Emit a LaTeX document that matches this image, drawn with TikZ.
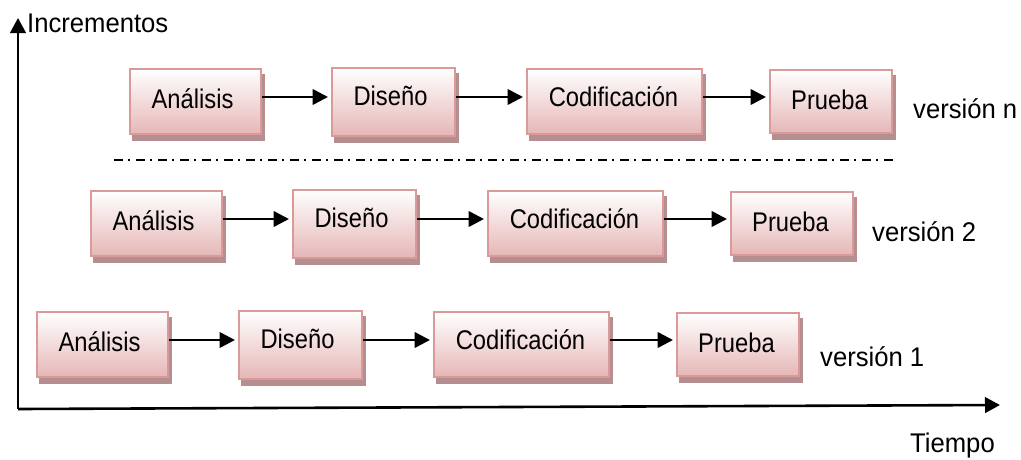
\documentclass[tikz,border=0pt]{standalone}
\usepackage{fontspec}
\setmainfont{Liberation Sans}
\usetikzlibrary{arrows.meta}
\definecolor{boxline}{HTML}{DB9A9A}
\definecolor{boxbot}{HTML}{E6B6B6}
\definecolor{boxshadow}{HTML}{B58F8F}
\tikzset{
  x=1pt,y=-1pt,
  stagebox/.style={draw=boxline,line width=2.4pt,top color=white,bottom color=boxbot,anchor=north west,inner sep=0pt,
    preaction={draw=boxshadow,fill=boxshadow,transform canvas={xshift=3pt,yshift=-6pt}}},
  lab/.style={font=\fontsize{27}{30}\selectfont,inner sep=0pt,text=black,anchor=base,xscale=.88},
  sidelab/.style={font=\fontsize{27}{30}\selectfont,inner sep=0pt,text=black,anchor=base west,xscale=.95},
  flow/.style={line width=2.6pt,-{Triangle[length=15.5pt,width=15.5pt]},shorten >=3pt},
  axisline/.style={line width=2.6pt,-{Triangle[length=15pt,width=15.5pt]},line join=round},
  sep/.style={line width=1.7pt,dash pattern=on 8.5pt off 5.5pt on 2pt off 6pt}
}
\newcommand{\rowdraw}[3]{%
 \begin{scope}[shift={(#1,#2)}]
  \node[stagebox,minimum width=131pt,minimum height=65pt] (a#3) at (129,68) {};
  \node[stagebox,minimum width=123pt,minimum height=68pt] (b#3) at (331,66.5) {};
  \node[stagebox,minimum width=175pt,minimum height=65pt] (c#3) at (526,68) {};
  \node[stagebox,minimum width=122pt,minimum height=63pt] (d#3) at (769,69) {};
  \coordinate (y#3) at (0,97);
  \node[lab] (ta#3) at (192.5,108) {Análisis};
  \node[lab] (tb#3) at (390.5,105) {Diseño};
  \node[lab] (tc#3) at (613.5,106) {Codificación};
  \node[lab] (td#3) at (829.5,109) {Prueba};
  \draw[flow] (a#3.east |- y#3) -- (b#3.west |- y#3);
  \draw[flow] (b#3.east |- y#3) -- (c#3.west |- y#3);
  \draw[flow] (c#3.east |- y#3) -- (d#3.west |- y#3);
 \end{scope}}
\begin{document}
\begin{tikzpicture}
\useasboundingbox (0,0) rectangle (1021,459);
\rowdraw{0}{0}{n}
\rowdraw{-39}{122}{t}
\rowdraw{-93}{243}{o}
\coordinate (origin) at (18,409);
\coordinate (ytip) at (18,18);
\coordinate (xtip) at (1000,405);
\draw[axisline] (origin) -- (ytip);
\draw[axisline] (origin) -- (xtip);
\coordinate (sepl) at (114,160);
\coordinate (sepr) at (893,160);
\draw[sep] (sepl) -- (sepr);
\node[sidelab] (inc) at (27,32) {Incrementos};
\node[sidelab] (vn) at (913,118.5) {versión n};
\node[sidelab] (v2) at (872,241.5) {versión 2};
\node[sidelab] (v1) at (820,366.5) {versión 1};
\node[sidelab] (tiem) at (910,452.5) {Tiempo};
\end{tikzpicture}
\end{document}
